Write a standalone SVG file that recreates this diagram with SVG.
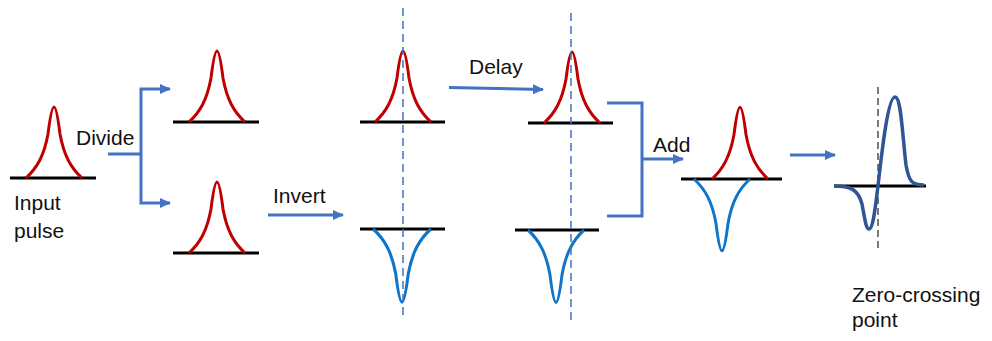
<svg xmlns="http://www.w3.org/2000/svg" xmlns:xlink="http://www.w3.org/1999/xlink" width="992" height="341" viewBox="0 0 992 341">
<style>
  text { font-family: "Liberation Sans", Arial, sans-serif; font-size: 21px; fill: #111; }
  .base { stroke: #000; stroke-width: 3; fill: none; }
  .red { stroke: #C00000; stroke-width: 3; fill: none; }
  .blue { stroke: #0F75C9; stroke-width: 3; fill: none; }
  .conn { stroke: #4472C4; stroke-width: 3; fill: none; }
  .dash { stroke: #4472C4; stroke-width: 1.5; stroke-dasharray: 8 5; fill: none; }
  .kdash { stroke: #333; stroke-width: 1.3; stroke-dasharray: 7 4; fill: none; }
</style>
<defs>
  <marker id="ah" markerUnits="userSpaceOnUse" markerWidth="12" markerHeight="12" viewBox="0 0 12 12" refX="10" refY="6" orient="auto">
    <path d="M0,1 L11,6 L0,11 Z" fill="#4472C4"/>
  </marker>
  <path id="pulse" d="M-28,0 C-17,-10 -10,-22 -6,-44 C-4,-60 -2,-71 0,-71 C2,-71 4,-60 6,-44 C10,-22 17,-10 28,0"/>
</defs>

<g id="input-pulse">
  <line class="base" x1="10" y1="178" x2="96" y2="178"/>
  <use href="#pulse" class="red" transform="translate(54,178)"/>
  <text x="14" y="210">Input</text>
  <text x="14" y="238">pulse</text>
</g>

<g id="divided-top">
  <line class="base" x1="173" y1="122" x2="259" y2="122"/>
  <use href="#pulse" class="red" transform="translate(217,122)"/>
</g>
<g id="divided-bottom">
  <line class="base" x1="173" y1="253" x2="259" y2="253"/>
  <use href="#pulse" class="red" transform="translate(217,253)"/>
</g>

<g id="aligned-top">
  <line class="base" x1="360" y1="122" x2="445" y2="122"/>
  <use href="#pulse" class="red" transform="translate(403,122)"/>
</g>
<g id="inverted">
  <line class="base" x1="360" y1="229" x2="445" y2="229"/>
  <use href="#pulse" class="blue" transform="translate(402,229) scale(1.03,-1.03)"/>
</g>

<g id="delayed-top">
  <line class="base" x1="528" y1="123" x2="613" y2="123"/>
  <use href="#pulse" class="red" transform="translate(572,123)"/>
</g>
<g id="inverted-2">
  <line class="base" x1="515" y1="230" x2="599" y2="230"/>
  <use href="#pulse" class="blue" transform="translate(556,230) scale(1,-1.02)"/>
</g>

<g id="sum">
  <line class="base" x1="681" y1="179" x2="782" y2="179"/>
  <use href="#pulse" class="red" transform="translate(740,179) scale(1,1.01)"/>
  <use href="#pulse" class="blue" transform="translate(722,179) scale(1,-1.01)"/>
</g>

<g id="output">
  <line class="base" x1="834" y1="186" x2="926" y2="186"/>
  <line class="kdash" x1="878" y1="87" x2="878" y2="250"/>
  <path d="M834,186 C850,186 858,189 862,204 C865,220 866,229 869,229 C873,229 875,210 878,186 C882,150 888,97 895,97 C901,97 902,130 906,165 C909,182 912,185 924,185" stroke="#2F5597" stroke-width="3.5" fill="none"/>
  <text x="852" y="302">Zero-crossing</text>
  <text x="852" y="327">point</text>
</g>

<g id="connectors">
  <line class="dash" x1="403" y1="8" x2="403" y2="320"/>
  <line class="dash" x1="571" y1="13" x2="571" y2="320"/>
  <path class="conn" d="M108,154 H141"/>
  <path class="conn" d="M141,154 V89 H170" marker-end="url(#ah)"/>
  <path class="conn" d="M141,154 V203 H170" marker-end="url(#ah)"/>
  <text x="76" y="145">Divide</text>
  <line class="conn" x1="268" y1="215" x2="343" y2="215" marker-end="url(#ah)"/>
  <text x="273" y="203">Invert</text>
  <line class="conn" x1="449" y1="87.5" x2="543" y2="89.5" marker-end="url(#ah)"/>
  <text x="469" y="74">Delay</text>
  <path class="conn" d="M607,103 H642 V216 H607"/>
  <line class="conn" x1="642" y1="159" x2="683" y2="159" marker-end="url(#ah)"/>
  <text x="653" y="152">Add</text>
  <line class="conn" x1="790" y1="155" x2="835" y2="155" marker-end="url(#ah)"/>
</g>
</svg>
